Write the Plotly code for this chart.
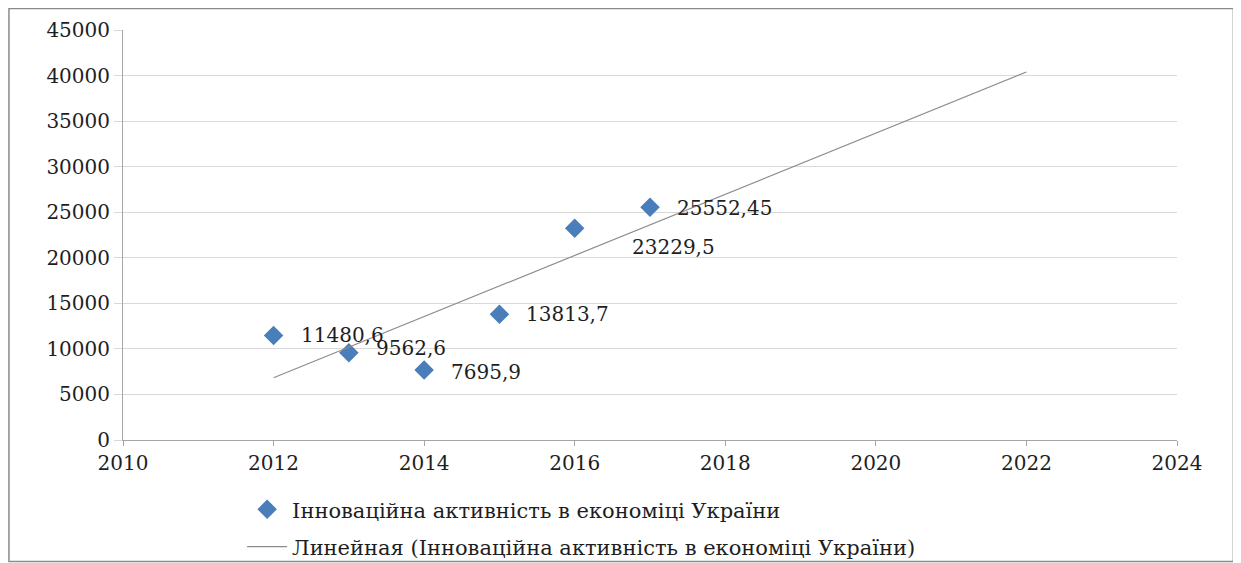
import numpy as np
import plotly.graph_objects as go

years = [2012, 2013, 2014, 2015, 2016, 2017]
values = [11480.6, 9562.6, 7695.9, 13813.7, 23229.5, 25552.45]
labels = ["11480,6", "9562,6", "7695,9", "13813,7", "23229,5", "25552,45"]
trend_years = [2012, 2022]
series_name = "Інноваційна активність в економіці України"
trend_name = "Линейная (Інноваційна активність в економіці України)"

# linear trendline (least squares), as in the spreadsheet chart
k, b = np.polyfit(years, values, 1)
trend_vals = [k * x + b for x in trend_years]

FONT = "DejaVu Serif"
TXT = "#1e1e1e"
fig = go.Figure()
fig.add_trace(go.Scatter(
    x=years, y=values, mode="markers", name=series_name, legendgroup="a",
    marker=dict(symbol="diamond", size=15, color="#4a7ebb"),
))
fig.add_trace(go.Scatter(
    x=trend_years, y=trend_vals, mode="lines", name=trend_name, legendgroup="b",
    line=dict(color="#8c8c8c", width=1.2),
))

# label offsets (pixels)
offsets = [(25, 0), (25, 5), (25, -2), (25, 0), (55, -19), (25, -1)]
for x, y, t, (dx, dy) in zip(years, values, labels, offsets):
    fig.add_annotation(x=x, y=y, text=t, showarrow=False, xanchor="left",
                       yanchor="middle", xshift=dx, yshift=dy,
                       font=dict(family=FONT, size=20, color=TXT))

fig.add_shape(type="rect", xref="paper", yref="paper",
              x0=-0.1082, x1=1.0535, y0=-0.2965, y1=1.0525,
              line=dict(color="#8a8a8a", width=1.5), fillcolor="rgba(0,0,0,0)", layer="below")

fig.update_layout(
    width=1241, height=563,
    margin=dict(l=115, r=72, t=22, b=131, autoexpand=False),
    paper_bgcolor="white", plot_bgcolor="white",
    font=dict(family=FONT, size=20, color=TXT),
    showlegend=True,
    legend=dict(x=0.113, y=-0.12, xanchor="left", yanchor="top",
                font=dict(family=FONT, size=21, color=TXT),
                tracegroupgap=7, itemwidth=40, bgcolor="rgba(0,0,0,0)"),
    xaxis=dict(range=[2010, 2024], dtick=2, tick0=2010, showgrid=False,
               showline=True, linecolor="#a6a6a6", linewidth=1,
               ticks="outside", ticklen=5, tickcolor="#a6a6a6",
               zeroline=False, tickfont=dict(family=FONT, size=20, color=TXT)),
    yaxis=dict(range=[0, 45000], dtick=5000, showgrid=True, gridcolor="#d9d9d9",
               showline=True, linecolor="#a6a6a6", linewidth=1,
               ticks="outside", ticklen=8, tickcolor="#d9d9d9",
               zeroline=False, tickformat="d",
               tickfont=dict(family=FONT, size=20, color=TXT)),
)

fig.write_html("out.html", config={"displayModeBar": False})
